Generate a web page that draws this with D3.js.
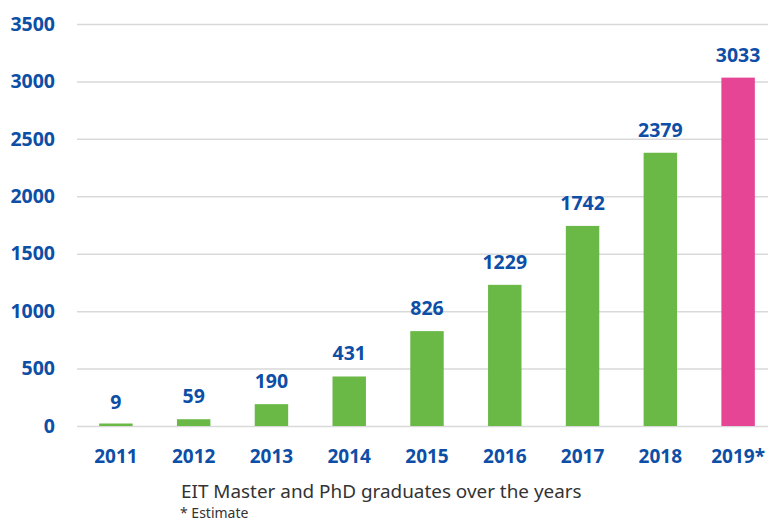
<!DOCTYPE html>
<html>
<head>
<meta charset="utf-8">
<script src="https://cdn.jsdelivr.net/npm/d3@7"></script>
<style>
  body { margin: 0; background: #fff; }
  svg { display: block; }
  svg text { font-family: "Noto Sans", "Open Sans", sans-serif; }
</style>
</head>
<body>
<svg></svg>
<script>
var years = ["2011", "2012", "2013", "2014", "2015", "2016", "2017", "2018", "2019*"];
var graduates = [9, 59, 190, 431, 826, 1229, 1742, 2379, 3033];
var estimated = [false, false, false, false, false, false, false, false, true];
var yTicks = [0, 500, 1000, 1500, 2000, 2500, 3000, 3500];

var width = 768, height = 521;
var plotLeft = 77, plotRight = 777, plotTop = 24, plotBottom = 426;
var blue = "#0d4ea6", green = "#6ab846", pink = "#e64495";

var data = years.map((y, i) => ({year: y, value: graduates[i], est: estimated[i]}));

var svg = d3.select("svg")
	.attr("width", width)
	.attr("height", height);

var xScale = d3.scaleBand()
	.domain(years)
	.range([plotLeft, plotRight])
	.paddingInner(0.57)
	.paddingOuter(0.285);

var yScale = d3.scaleLinear()
	.domain([0, 3500])
	.range([plotBottom, plotTop]);

// gridlines + y labels
var yAxis = d3.axisLeft(yScale)
	.tickValues(yTicks)
	.tickFormat(d3.format("d"))
	.tickSize(-(width - plotLeft))
	.tickPadding(22);

svg.append("g")
	.attr("transform", `translate(${plotLeft}, 0)`)
	.call(yAxis)
	.call(g => g.select(".domain").remove())
	.call(g => g.selectAll(".tick line").attr("stroke", "#d9d9d9").attr("stroke-width", 1.5))
	.call(g => g.selectAll(".tick text")
		.attr("fill", blue)
		.style("font-size", "19.5px")
		.style("font-weight", "bold"));

// x labels
var xAxis = d3.axisBottom(xScale).tickSize(0).tickPadding(24);
svg.append("g")
	.attr("transform", `translate(0, ${plotBottom})`)
	.call(xAxis)
	.call(g => g.select(".domain").remove())
	.call(g => g.selectAll(".tick text")
		.attr("fill", blue)
		.style("font-size", "19px")
		.style("font-weight", "bold"));

// bars (a hairline minimum so the tiny 2011 value stays visible)
svg.selectAll("rect.bar")
	.data(data)
	.enter()
	.append("rect")
		.attr("class", "bar")
		.attr("x", d => xScale(d.year))
		.attr("width", xScale.bandwidth())
		.attr("y", d => Math.min(yScale(d.value), yScale(0) - 2.5))
		.attr("height", d => Math.max(yScale(0) - yScale(d.value), 2.5))
		.attr("fill", d => d.est ? pink : green);

// value labels
svg.selectAll("text.val")
	.data(data)
	.enter()
	.append("text")
		.attr("class", "val")
		.attr("x", d => xScale(d.year) + xScale.bandwidth() / 2)
		.attr("y", d => yScale(d.value) - 16)
		.style("text-anchor", "middle")
		.style("font-size", "19.5px")
		.style("font-weight", "bold")
		.attr("fill", blue)
		.text(d => d.value);

// caption
svg.append("text")
	.attr("x", 181)
	.attr("y", 498)
	.style("font-size", "18.9px")
	.attr("fill", "#333")
	.text("EIT Master and PhD graduates over the years");

svg.append("text")
	.attr("x", 180)
	.attr("y", 518)
	.style("font-size", "14px")
	.attr("fill", "#333")
	.text("* Estimate");
</script>
</body>
</html>
